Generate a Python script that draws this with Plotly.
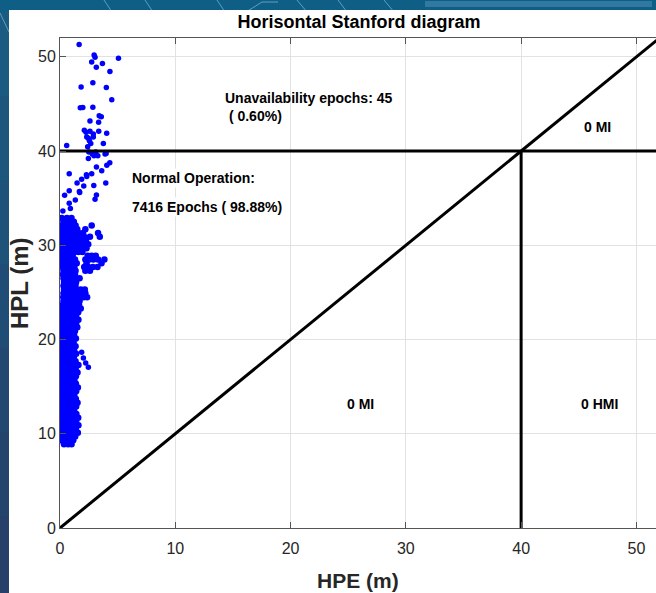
import plotly.graph_objects as go

# ---------------- data ----------------
# sparse epochs (HPE, HPL) in metres
sparse_hpe = [1.66, 2.96, 3.04, 2.75, 3.68, 3.15, 5.07, 4.33, 1.83, 2.85, 4.02, 4.49,
              1.76, 1.98, 2.85, 3.40, 3.58, 2.60, 3.35, 2.11, 2.26, 2.60, 2.89, 3.36,
              4.05, 2.32, 2.46, 2.89, 2.55, 2.67, 0.58, 3.76, 2.40,
              2.50, 2.80, 4.00, 2.46, 2.95, 3.28, 3.91, 3.10,
              4.32, 4.06, 3.62, 3.16, 2.75, 2.29, 1.88, 1.48, 2.06, 1.71, 2.93, 3.97,
              3.16, 3.04, 0.80, 0.80, 0.40, 0.80, 1.33, 0.90, 0.25, 1.68, 2.32,
              2.03, 2.23, 2.46, 1.88]
sparse_hpl = [51.3, 50.2, 49.95, 49.45, 49.3, 48.9, 49.85, 48.45, 46.8, 47.25, 46.75, 45.45,
              44.6, 44.62, 44.65, 43.75, 43.65, 43.2, 43.05, 42.2, 42.0, 42.1, 41.8, 42.1,
              41.9, 41.5, 41.35, 41.5, 41.1, 40.8, 40.6, 40.8, 40.45,
              39.9, 39.7, 39.75, 39.2, 39.5, 39.5, 39.7, 39.9,
              38.76, 38.5, 37.9, 38.3, 37.6, 37.5, 37.0, 36.6, 36.3, 35.6, 36.35, 36.6,
              35.35, 34.9, 37.6, 35.8, 35.3, 34.45, 34.8, 33.9, 33.65, 35.7, 37.3,
              18.05, 17.5, 17.05, 18.65]

# dense epochs: HPL level -> HPE values observed at that level
dense_rows = {
    8.9: [0.35, 0.7, 1.0],
    9.3: [0.12, 0.48, 0.82, 1.15],
    9.7: [0.02, 0.3, 0.65, 1.0, 1.32],
    10.1: [0.15, 0.5, 0.85, 1.2, 1.55],
    10.5: [0.0, 0.33, 0.68, 1.02, 1.38],
    10.9: [0.18, 0.52, 0.88, 1.22, 1.6],
    11.3: [0.03, 0.36, 0.7, 1.05, 1.4],
    11.7: [0.2, 0.55, 0.9, 1.25, 1.58],
    12.1: [0.05, 0.38, 0.72, 1.08, 1.42],
    12.5: [0.2, 0.56, 0.9, 1.22],
    12.9: [0.02, 0.36, 0.7, 1.05, 1.4],
    13.3: [0.18, 0.53, 0.88, 1.22, 1.52],
    13.7: [0.04, 0.38, 0.72, 1.06, 1.38],
    14.1: [0.2, 0.55, 0.9, 1.24],
    14.5: [0.03, 0.37, 0.7, 1.05, 1.4],
    14.9: [0.19, 0.54, 0.88, 1.2, 1.55],
    15.3: [0.05, 0.38, 0.72, 1.05, 1.38],
    15.7: [0.2, 0.55, 0.9, 1.25],
    16.1: [0.02, 0.36, 0.7, 1.04, 1.38],
    16.5: [0.18, 0.52, 0.86, 1.2, 1.52],
    16.9: [0.04, 0.38, 0.72, 1.05, 1.36],
    17.3: [0.2, 0.55, 0.9, 1.22, 1.6],
    17.7: [0.03, 0.36, 0.7, 1.04, 1.35],
    18.1: [0.19, 0.53, 0.87, 1.2],
    18.5: [0.05, 0.38, 0.72, 1.05, 1.4],
    18.9: [0.2, 0.55, 0.9, 1.22],
    19.3: [0.02, 0.36, 0.7, 1.04, 1.35],
    19.7: [0.18, 0.52, 0.86, 1.18],
    20.1: [0.04, 0.38, 0.72, 1.05, 1.38],
    20.5: [0.2, 0.55, 0.9, 1.22],
    20.9: [0.03, 0.36, 0.7, 1.02, 1.3],
    21.3: [0.18, 0.52, 0.85, 1.18, 1.5],
    21.7: [0.05, 0.38, 0.72, 1.05, 1.4],
    22.1: [0.2, 0.55, 0.9, 1.25, 1.6],
    22.5: [0.03, 0.36, 0.7, 1.05, 1.4],
    22.9: [0.18, 0.52, 0.88, 1.22, 1.58],
    23.3: [0.06, 0.4, 0.75, 1.1, 1.45, 1.8],
    23.7: [0.25, 0.6, 0.95, 1.3, 1.65],
    24.1: [0.3, 0.65, 1.0, 1.35, 1.7],
    24.5: [0.28, 0.62, 0.98, 1.32, 1.68, 2.05, 2.35],
    24.9: [0.3, 0.66, 1.0, 1.36, 1.72, 2.2],
    25.3: [0.35, 0.7, 1.05, 1.4, 1.8, 2.15],
    25.7: [0.3, 0.65, 1.0, 1.35],
    26.1: [0.35, 0.7, 1.05, 1.4],
    26.5: [0.3, 0.65, 1.0, 1.3, 1.7],
    26.9: [0.25, 0.6, 0.95, 1.3],
    27.3: [0.3, 0.65, 1.0, 1.35, 2.2, 2.6],
    27.7: [0.2, 0.55, 0.9, 1.25, 2.1, 2.45, 2.85, 3.25],
    28.1: [0.05, 0.4, 0.75, 1.1, 1.45, 2.3, 3.6],
    28.5: [0.2, 0.55, 0.9, 1.3, 2.2, 2.55, 2.9, 3.3, 3.85],
    28.9: [0.05, 0.4, 0.75, 1.1, 2.4, 2.75, 3.1],
    29.3: [0.2, 0.55, 0.9, 1.25, 1.6, 1.95],
    29.7: [0.05, 0.4, 0.75, 1.1, 1.45, 1.8, 2.3],
    30.1: [0.2, 0.55, 0.9, 1.25, 1.6, 2.0, 2.45],
    30.5: [0.05, 0.4, 0.75, 1.1, 1.45, 1.85, 2.25],
    30.9: [0.2, 0.55, 0.9, 1.3, 1.7, 2.1, 2.6, 3.45],
    31.3: [0.05, 0.4, 0.8, 1.2, 1.6, 2.0, 3.3],
    31.7: [0.25, 0.65, 1.05, 1.5, 2.2],
    32.1: [0.1, 0.5, 0.9, 1.35, 2.75],
    32.5: [0.3, 0.75, 1.2],
    32.9: [0.15, 0.6, 1.0],
}

alarm_limit = 40
axis_max = 52
tick_values = [0, 10, 20, 30, 40, 50]

title_text = "Horisontal Stanford diagram"
x_label = "HPE (m)"
y_label = "HPL (m)"
region_texts = [
    (14.1, 44.7, "Unavailability epochs: 45<br> ( 0.60%)"),
    (6.1, 37.1, "Normal Operation:"),
    (6.1, 34.1, "7416 Epochs ( 98.88%)"),
    (46.6, 42.6, "0 MI"),
    (26.1, 13.2, "0 MI"),
    (46.8, 13.2, "0 HMI"),
]

# ---------------- build ----------------
dense_hpe = []
dense_hpl = []
for lvl, xs in dense_rows.items():
    for xv in xs:
        dense_hpe.append(xv)
        dense_hpl.append(lvl)

W, H = 656, 593
ML, MR, MT, MB = 60, 0, 38, 65
PW, PH = W - ML - MR, H - MT - MB


def fx(px):
    return (px - ML) / PW


def fy(py):
    return (H - MB - py) / PH


FONT = "Liberation Sans, Arial, sans-serif"

fig = go.Figure()
fig.add_trace(go.Scatter(x=dense_hpe, y=dense_hpl, mode="markers",
                         marker=dict(color="#0000ff", size=6.5, line=dict(width=0)),
                         hoverinfo="skip"))
fig.add_trace(go.Scatter(x=sparse_hpe, y=sparse_hpl, mode="markers",
                         marker=dict(color="#0000ff", size=5.5, line=dict(width=0)),
                         hoverinfo="skip"))
# boundary lines
fig.add_trace(go.Scatter(x=[0, axis_max], y=[0, axis_max], mode="lines",
                         line=dict(color="black", width=3), hoverinfo="skip"))
fig.add_trace(go.Scatter(x=[0, axis_max], y=[alarm_limit, alarm_limit], mode="lines",
                         line=dict(color="black", width=3), hoverinfo="skip"))
fig.add_trace(go.Scatter(x=[alarm_limit, alarm_limit], y=[0, alarm_limit], mode="lines",
                         line=dict(color="black", width=3), hoverinfo="skip"))

# background decoration (slide)
shapes = []
shapes.append(dict(type="rect", xref="paper", yref="paper", x0=fx(0), x1=fx(W), y0=fy(12), y1=fy(0),
                   fillcolor="#0f5e86", line=dict(width=0), layer="below"))
band_cols = ["#1b5a81", "#1c567d", "#1e5279", "#204d75", "#224871", "#24446d", "#26406a"]
for i, c in enumerate(band_cols):
    shapes.append(dict(type="rect", xref="paper", yref="paper", x0=fx(0), x1=fx(12),
                       y0=fy(12 + (i + 1) * 84), y1=fy(12 + i * 84),
                       fillcolor=c, line=dict(width=0), layer="below"))
shapes.append(dict(type="rect", xref="paper", yref="paper", x0=fx(425), x1=fx(652), y0=fy(7), y1=fy(1),
                   fillcolor="#5a9cc0", opacity=0.45, line=dict(width=0), layer="below"))
deco = [((104, 0), (112, 12)), ((145, 0), (153, 12)), ((217, 0), (225, 12)),
        ((246, 12), (262, 2)), ((262, 2), (278, 2)), ((297, 0), (307, 12)),
        ((338, 0), (347, 12)), ((384, 0), (394, 12)), ((0, 13), (9, 32))]
for (a, b) in deco:
    shapes.append(dict(type="line", xref="paper", yref="paper", x0=fx(a[0]), y0=fy(a[1]),
                       x1=fx(b[0]), y1=fy(b[1]), line=dict(color="#5d9fc6", width=1), layer="below"))
# white figure panel
shapes.append(dict(type="rect", xref="paper", yref="paper", x0=fx(9), x1=fx(W + 5), y0=fy(H + 5), y1=fy(10),
                   fillcolor="white", line=dict(width=0), layer="below"))

annotations = []
for (xv, yv, t) in region_texts:
    annotations.append(dict(x=xv, y=yv, xref="x", yref="y", text="<b>%s</b>" % t, showarrow=False,
                            xanchor="left" if xv < 20 else "center", yanchor="middle", align="left",
                            font=dict(family=FONT, size=14, color="black"),
                            bgcolor="white" if xv < 10 else None))
annotations.append(dict(x=0.5, y=fy(580), xref="paper", yref="paper", text="<b>%s</b>" % x_label,
                        showarrow=False, xanchor="center", yanchor="middle",
                        font=dict(family=FONT, size=21, color="#262626")))
annotations.append(dict(x=fx(19), y=fy(283), xref="paper", yref="paper", text="<b>%s</b>" % y_label,
                        showarrow=False, xanchor="center", yanchor="middle", textangle=-90,
                        font=dict(family=FONT, size=24, color="#262626")))

fig.update_layout(
    width=W, height=H,
    margin=dict(l=ML, r=MR, t=MT, b=MB, autoexpand=False),
    paper_bgcolor="#1d5078", plot_bgcolor="white",
    showlegend=False,
    title=dict(text="<b>%s</b>" % title_text, x=fx(359), xref="paper", xanchor="center",
               y=1 - 22 / H, yref="container", yanchor="middle",
               font=dict(family=FONT, size=18, color="black")),
    shapes=shapes, annotations=annotations,
)
axis_common = dict(tickvals=tick_values, showgrid=True, gridcolor="#e2e2e2", gridwidth=1,
                   zeroline=False, showline=True, linecolor="#555555", linewidth=1,
                   ticks="inside", ticklen=6, tickcolor="#555555", automargin=False,
                   tickfont=dict(family=FONT, size=16, color="#262626"))
fig.update_xaxes(range=[0, 51.7], mirror="ticks", ticklabelstandoff=6, **axis_common)
fig.update_yaxes(range=[0, axis_max], **axis_common)

fig.write_html("out.html", config={"displayModeBar": False},
               post_script="document.body.style.margin='0';document.body.style.padding='0';"
                           "document.body.style.background='#1d5078';")
